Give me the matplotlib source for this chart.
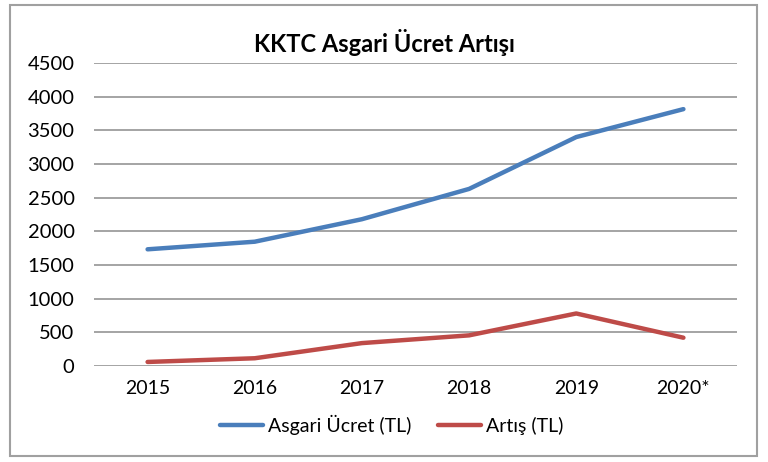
import matplotlib
matplotlib.use("Agg")
import matplotlib.pyplot as plt
from matplotlib.patches import Rectangle
from matplotlib.lines import Line2D

years = ["2015", "2016", "2017", "2018", "2019", "2020*"]
asgari = [1733, 1846, 2180, 2630, 3400, 3815]
artis = [60, 115, 340, 455, 780, 420]
yticks = [0, 500, 1000, 1500, 2000, 2500, 3000, 3500, 4000, 4500]

plt.rcParams['font.family'] = ['Lato', 'DejaVu Sans']

fig = plt.figure(figsize=(7.68, 4.62), dpi=100)
ax = fig.add_axes([94/768, 1-366/462, (737-94)/768, (366-63)/462])

x = list(range(len(years)))
ax.plot(x, asgari, color='#4A7EBB', lw=3.2, solid_capstyle='round', label='Asgari Ücret (TL)')
ax.plot(x, artis, color='#BE4B48', lw=3.2, solid_capstyle='round', label='Artış (TL)')

ax.set_xlim(-0.5, len(years) - 0.5)
ax.set_ylim(0, 4500)
ax.set_yticks(yticks)
ax.set_yticklabels([str(v) for v in yticks], fontsize=14.5)
ax.set_xticks(x)
ax.set_xticklabels(years, fontsize=14)
ax.grid(axis='y', color='#8C8C8C', lw=1.1)
ax.set_axisbelow(True)
for s in ax.spines.values():
    s.set_visible(False)
ax.tick_params(length=0)
ax.tick_params(axis='x', pad=10)
ax.tick_params(axis='y', pad=14)

fig.text(0.5, 1-42/462, "KKTC Asgari Ücret Artışı", ha='center', va='center',
         fontsize=17, fontweight='bold')

handles = [Line2D([0], [0], color='#4A7EBB', lw=3.2, solid_capstyle='round'),
           Line2D([0], [0], color='#BE4B48', lw=3.2, solid_capstyle='round')]
fig.legend(handles, ['Asgari Ücret (TL)', 'Artış (TL)'], loc='center',
           bbox_to_anchor=(0.51, 1-425/462), ncol=2, frameon=False, fontsize=14,
           handlelength=2.2, handletextpad=0.25, columnspacing=1.4)

fig.patches.append(Rectangle((10/768, 1-456/462), (757-10)/768, (456-5)/462,
                             transform=fig.transFigure, fill=False,
                             edgecolor='#A0A0A0', lw=1.5))

fig.savefig("out.png", dpi=100)
